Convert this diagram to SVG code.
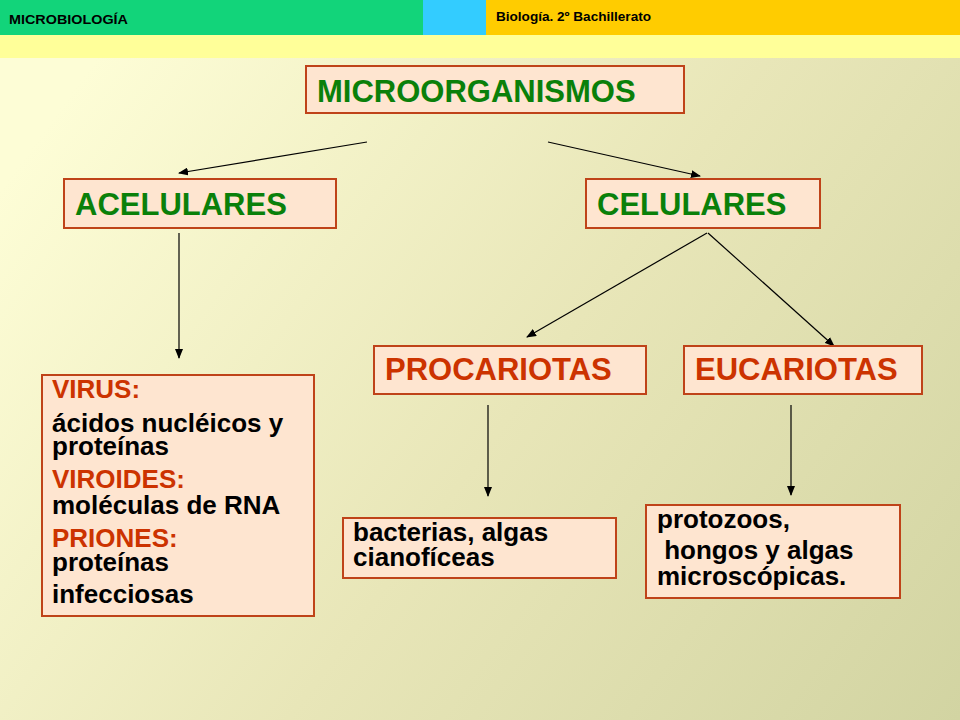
<svg xmlns="http://www.w3.org/2000/svg" width="960" height="720" viewBox="0 0 960 720">
<defs>
<linearGradient id="bg" gradientUnits="userSpaceOnUse" x1="80" y1="80" x2="960" y2="720">
<stop offset="0" stop-color="#FDFDD6"/>
<stop offset="0.5" stop-color="#E8E6B8"/>
<stop offset="1" stop-color="#D2D4A2"/>
</linearGradient>
<marker id="ah" markerUnits="userSpaceOnUse" markerWidth="10" markerHeight="8" refX="9" refY="4" orient="auto">
<path d="M0,0 L10,4 L0,8 z" fill="#000"/>
</marker>
<style>
.box{fill:#FEE5D0;stroke:#BF4319;stroke-width:2}
.h{font-family:"Liberation Sans",Arial,sans-serif;font-weight:bold;font-size:31px}
.g{fill:#0A800A}
.r{fill:#CC3300}
.t{font-family:"Liberation Sans",Arial,sans-serif;font-weight:bold;font-size:26px;fill:#000}
.tr{font-family:"Liberation Sans",Arial,sans-serif;font-weight:bold;font-size:26px;fill:#CC3300}
.c{stroke:#000;stroke-width:1.2;fill:none;marker-end:url(#ah)}
.hd{font-family:"Liberation Sans",Arial,sans-serif;font-weight:bold;fill:#000}
</style>
</defs>
<rect width="960" height="720" fill="url(#bg)"/>
<g id="header">
<rect x="0" y="0" width="423" height="35" fill="#12D47A"/>
<rect x="423" y="0" width="63" height="35" fill="#33CCFF"/>
<rect x="486" y="0" width="474" height="35" fill="#FFCC00"/>
<rect x="0" y="35" width="960" height="23" fill="#FFFF99"/>
<text class="hd" x="9" y="24" font-size="13.5" textLength="119" lengthAdjust="spacingAndGlyphs">MICROBIOLOGÍA</text>
<text class="hd" x="496" y="21" font-size="13" textLength="155" lengthAdjust="spacingAndGlyphs">Biología. 2º Bachillerato</text>
</g>
<g id="connectors">
<line class="c" x1="367" y1="142" x2="179" y2="173"/>
<line class="c" x1="548" y1="142" x2="700" y2="176"/>
<line class="c" x1="179" y1="233" x2="179" y2="358"/>
<line class="c" x1="707" y1="233" x2="527" y2="337"/>
<line class="c" x1="708" y1="233" x2="834" y2="346"/>
<line class="c" x1="488" y1="405" x2="488" y2="496"/>
<line class="c" x1="791" y1="405" x2="791" y2="495"/>
</g>
<g id="microorganismos">
<rect class="box" x="306" y="66" width="378" height="47"/>
<text class="h g" x="317" y="102">MICROORGANISMOS</text>
</g>
<g id="acelulares">
<rect class="box" x="64" y="179" width="272" height="49"/>
<text class="h g" x="75" y="215">ACELULARES</text>
</g>
<g id="celulares">
<rect class="box" x="586" y="179" width="234" height="49"/>
<text class="h g" x="597" y="215">CELULARES</text>
</g>
<g id="procariotas">
<rect class="box" x="374" y="346" width="272" height="48"/>
<text class="h r" x="385" y="380">PROCARIOTAS</text>
</g>
<g id="eucariotas">
<rect class="box" x="684" y="346" width="238" height="48"/>
<text class="h r" x="695" y="380">EUCARIOTAS</text>
</g>
<g id="acelulares-detalle">
<rect class="box" x="42" y="375" width="272" height="241"/>
<text class="tr" x="52" y="398">VIRUS:</text>
<text class="t" x="52" y="432">ácidos nucléicos y</text>
<text class="t" x="52" y="455">proteínas</text>
<text class="tr" x="52" y="488">VIROIDES:</text>
<text class="t" x="52" y="514">moléculas de RNA</text>
<text class="tr" x="52" y="547">PRIONES:</text>
<text class="t" x="52" y="571">proteínas</text>
<text class="t" x="52" y="603">infecciosas</text>
</g>
<g id="procariotas-detalle">
<rect class="box" x="343" y="518" width="273" height="60"/>
<text class="t" x="353" y="541" font-size="25">bacterias, algas</text>
<text class="t" x="353" y="566" font-size="25">cianofíceas</text>
</g>
<g id="eucariotas-detalle">
<rect class="box" x="646" y="505" width="254" height="93"/>
<text class="t" x="657" y="528" font-size="25">protozoos,</text>
<text class="t" x="657" y="559" font-size="25" xml:space="preserve"> hongos y algas</text>
<text class="t" x="657" y="585" font-size="25">microscópicas.</text>
</g>
</svg>
